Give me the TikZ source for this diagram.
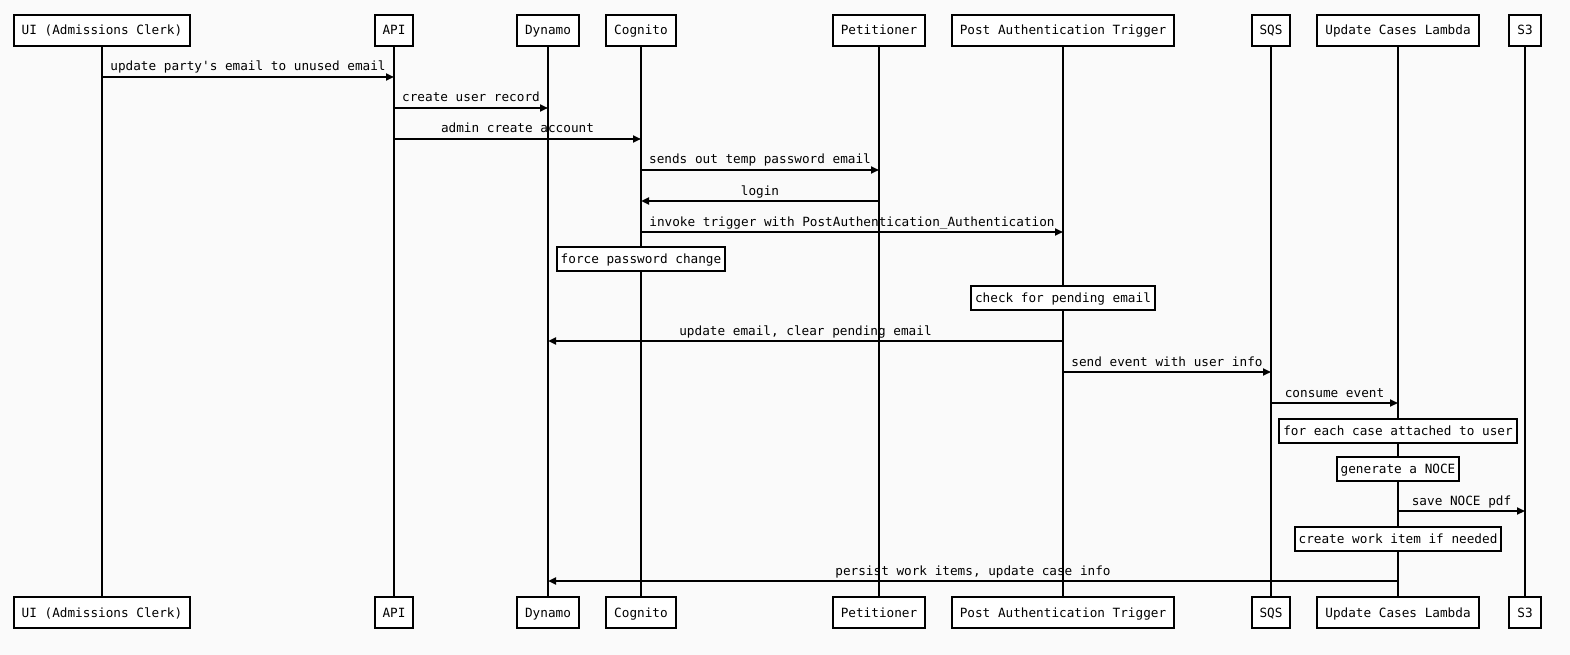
\documentclass[tikz,border=0pt]{standalone}
\usepackage{fontspec}
\setmonofont{DejaVu Sans Mono}
\usetikzlibrary{arrows.meta}
\definecolor{bgc}{HTML}{FAFAFA}
\tikzset{
  actor/.style={draw=black, line width=2pt, fill=white, minimum height=31pt, inner xsep=8pt, inner ysep=0pt, font=\ttfamily\fontsize{12.7}{15}\selectfont, text height=10.5pt, text depth=1.5pt},
  notebox/.style={draw=black, line width=2pt, fill=white, minimum height=24pt, inner xsep=4pt, inner ysep=0pt, font=\ttfamily\fontsize{12.7}{15}\selectfont, text height=10.5pt, text depth=1.5pt},
  life/.style={line width=2pt},
  msg/.style={line width=2pt, -{Triangle[length=8pt,width=7pt]}},
  lbl/.style={font=\ttfamily\fontsize{12.7}{15}\selectfont, text height=9pt, text depth=2.5pt, inner sep=0pt, above=2.5pt, midway}
}
\begin{document}
\begin{tikzpicture}[x=1pt,y=-1pt]
\fill[bgc] (0,0) rectangle (1570,655);
\useasboundingbox (0,0) rectangle (1570,655);
% participants top and bottom
\foreach \n/\x/\t in {ui/102/UI (Admissions Clerk), api/394/API, dyn/548/Dynamo, cog/641/Cognito, pet/879/Petitioner, pat/1063/Post Authentication Trigger, sqs/1271/SQS, ucl/1398/Update Cases Lambda, s3/1525/S3}{
  \node[actor] (t-\n) at (\x,30.5) {\t};
  \node[actor] (b-\n) at (\x,612.5) {\t};
}
% lifelines
\foreach \n in {ui,api,dyn,cog,pet,pat,sqs,ucl,s3}{
  \draw[life] (t-\n.south) -- (b-\n.north);
}
% messages
\draw[msg] (t-ui.south |- 0,77) -- (t-api.south |- 0,77) node[lbl] {update party's email to unused email};
\draw[msg] (t-api.south |- 0,108) -- (t-dyn.south |- 0,108) node[lbl] {create user record};
\draw[msg] (t-api.south |- 0,139) -- (t-cog.south |- 0,139) node[lbl] {admin create account};
\draw[msg] (t-cog.south |- 0,170) -- (t-pet.south |- 0,170) node[lbl] {sends out temp password email};
\draw[msg] (t-pet.south |- 0,201) -- (t-cog.south |- 0,201) node[lbl] {login};
\draw[msg] (t-cog.south |- 0,232) -- (t-pat.south |- 0,232) node[lbl] {invoke trigger with PostAuthentication\_Authentication};
\node[notebox] (n1) at (t-cog.south |- 0,259) {force password change};
\node[notebox] (n2) at (t-pat.south |- 0,298) {check for pending email};
\draw[msg] (t-pat.south |- 0,341) -- (t-dyn.south |- 0,341) node[lbl] {update email, clear pending email};
\draw[msg] (t-pat.south |- 0,372) -- (t-sqs.south |- 0,372) node[lbl] {send event with user info};
\draw[msg] (t-sqs.south |- 0,403) -- (t-ucl.south |- 0,403) node[lbl] {consume event};
\node[notebox] (n3) at (t-ucl.south |- 0,430.5) {for each case attached to user};
\node[notebox] (n4) at (t-ucl.south |- 0,468.5) {generate a NOCE};
\draw[msg] (t-ucl.south |- 0,511) -- (t-s3.south |- 0,511) node[lbl] {save NOCE pdf};
\node[notebox] (n5) at (t-ucl.south |- 0,539) {create work item if needed};
\draw[msg] (t-ucl.south |- 0,581) -- (t-dyn.south |- 0,581) node[lbl] {persist work items, update case info};
\end{tikzpicture}
\end{document}
